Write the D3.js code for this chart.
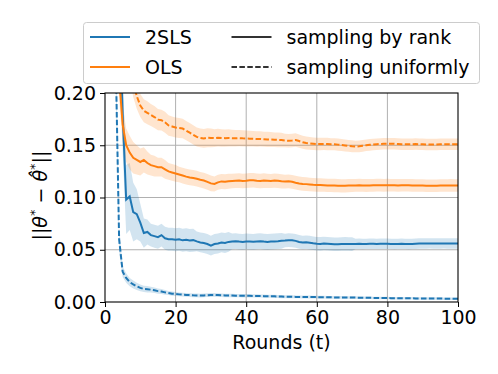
<!DOCTYPE html>
<html>
<head>
<meta charset="utf-8">
<script src="https://cdn.jsdelivr.net/npm/d3@7"></script>
<style>
  body { margin: 0; background: #fff; }
  svg { font-family: "DejaVu Sans", sans-serif; }
</style>
</head>
<body>
<svg id="chart" width="498" height="374"></svg>
<script>
// rounds 1..100
const rounds = d3.range(1, 101);

// 2SLS, sampling by rank (mean and band half-width)
const tslsRank = [
  0.90, 0.60, 0.40, 0.30, 0.18, 0.098, 0.101, 0.086, 0.084, 0.076,
  0.066, 0.067, 0.064, 0.063, 0.062, 0.064, 0.061, 0.060, 0.060, 0.0596,
  0.0600, 0.0590, 0.0595, 0.0588, 0.0592, 0.0580, 0.0570, 0.0565, 0.0555, 0.0540,
  0.0555, 0.0560, 0.0570, 0.0565, 0.0575, 0.0580, 0.0582, 0.0578, 0.0575, 0.0580,
  0.0578, 0.0576, 0.0580, 0.0582, 0.0578, 0.0575, 0.0578, 0.0580, 0.0582, 0.0585,
  0.0588, 0.0592, 0.0590, 0.0585, 0.0575, 0.0570, 0.0572, 0.0568, 0.0562, 0.0558,
  0.0556, 0.0560, 0.0558, 0.0555, 0.0552, 0.0553, 0.0555, 0.0556, 0.0555, 0.0554,
  0.0556, 0.0557, 0.0555, 0.0556, 0.0558, 0.0557, 0.0556, 0.0557, 0.0558, 0.0557,
  0.0556, 0.0555, 0.0556, 0.0557, 0.0556, 0.0555, 0.0556, 0.0558, 0.0559, 0.0560,
  0.0560, 0.0561, 0.0560, 0.0559, 0.0560, 0.0561, 0.0560, 0.0559, 0.0560, 0.0560
];
const tslsRankErr = [
  0.060, 0.050, 0.045, 0.040, 0.035, 0.033, 0.032, 0.028, 0.024, 0.018,
  0.014, 0.012, 0.011, 0.011, 0.011, 0.011, 0.011, 0.011, 0.011, 0.011,
  0.011, 0.011, 0.011, 0.011, 0.011, 0.0095, 0.0095, 0.0095, 0.0095, 0.0095,
  0.0095, 0.0095, 0.0095, 0.0095, 0.0095, 0.0075, 0.0075, 0.0075, 0.0075, 0.0075,
  0.0075, 0.0075, 0.0075, 0.0075, 0.0075, 0.0075, 0.0075, 0.0075, 0.0075, 0.0075,
  0.0065, 0.0065, 0.0065, 0.0065, 0.0065, 0.0065, 0.0065, 0.0065, 0.0065, 0.0065,
  0.0065, 0.0065, 0.0065, 0.0065, 0.0065, 0.0065, 0.0065, 0.0065, 0.0065, 0.0065,
  0.0050, 0.0050, 0.0050, 0.0050, 0.0050, 0.0050, 0.0050, 0.0050, 0.0050, 0.0050,
  0.0050, 0.0050, 0.0050, 0.0050, 0.0050, 0.0050, 0.0050, 0.0050, 0.0050, 0.0050,
  0.0050, 0.0050, 0.0050, 0.0050, 0.0050, 0.0050, 0.0050, 0.0050, 0.0050, 0.0050
];

// 2SLS, sampling uniformly
const tslsUnif = [
  0.90, 0.50, 0.24, 0.060, 0.029, 0.023, 0.019, 0.0168, 0.0150, 0.0135,
  0.0125, 0.0122, 0.0118, 0.0112, 0.0104, 0.0100, 0.0092, 0.0086, 0.0080, 0.0077,
  0.0073, 0.0070, 0.0068, 0.0066, 0.0064, 0.0063, 0.0062, 0.0063, 0.0065, 0.0067,
  0.0068, 0.0066, 0.0064, 0.0063, 0.0062, 0.0062, 0.0061, 0.0061, 0.0060, 0.0060,
  0.0059, 0.0058, 0.0058, 0.0057, 0.0056, 0.0055, 0.0055, 0.0054, 0.0053, 0.0052,
  0.0051, 0.0050, 0.0050, 0.0049, 0.0049, 0.0048, 0.0048, 0.0048, 0.0047, 0.0047,
  0.0046, 0.0046, 0.0045, 0.0045, 0.0044, 0.0044, 0.0044, 0.0043, 0.0043, 0.0042,
  0.0042, 0.0041, 0.0041, 0.0040, 0.0040, 0.0039, 0.0039, 0.0038, 0.0038, 0.0038,
  0.0037, 0.0037, 0.0036, 0.0036, 0.0035, 0.0035, 0.0035, 0.0034, 0.0034, 0.0034,
  0.0034, 0.0033, 0.0033, 0.0033, 0.0033, 0.0032, 0.0032, 0.0032, 0.0032, 0.0032
];
const tslsUnifErr = [
  0.050, 0.040, 0.030, 0.012, 0.005, 0.0045, 0.0040, 0.0038, 0.0035, 0.0032,
  0.0030, 0.0030, 0.0028, 0.0026, 0.0025, 0.0024, 0.0022, 0.0020, 0.0020, 0.0019,
  0.0018, 0.0018, 0.0018, 0.0018, 0.0018, 0.0018, 0.0018, 0.0018, 0.0018, 0.0018,
  0.0017, 0.0017, 0.0017, 0.0017, 0.0017, 0.0016, 0.0016, 0.0016, 0.0016, 0.0016,
  0.0015, 0.0015, 0.0015, 0.0015, 0.0015, 0.0015, 0.0015, 0.0015, 0.0015, 0.0015,
  0.0014, 0.0014, 0.0014, 0.0014, 0.0014, 0.0014, 0.0014, 0.0014, 0.0014, 0.0014,
  0.0013, 0.0013, 0.0013, 0.0013, 0.0013, 0.0013, 0.0013, 0.0013, 0.0013, 0.0013,
  0.0012, 0.0012, 0.0012, 0.0012, 0.0012, 0.0012, 0.0012, 0.0012, 0.0012, 0.0012,
  0.0012, 0.0012, 0.0012, 0.0012, 0.0012, 0.0012, 0.0012, 0.0012, 0.0012, 0.0012,
  0.0012, 0.0012, 0.0012, 0.0012, 0.0012, 0.0012, 0.0012, 0.0012, 0.0012, 0.0012
];

// OLS, sampling by rank
const olsRank = [
  1.00, 0.60, 0.33, 0.215, 0.170, 0.150, 0.143, 0.138, 0.136, 0.134,
  0.136, 0.133, 0.131, 0.130, 0.129, 0.129, 0.127, 0.125, 0.124, 0.123,
  0.1220, 0.1210, 0.1200, 0.1192, 0.1187, 0.1180, 0.1170, 0.1162, 0.1150, 0.1135,
  0.1130, 0.1145, 0.1154, 0.1150, 0.1155, 0.1158, 0.1160, 0.1162, 0.1158, 0.1160,
  0.1164, 0.1165, 0.1160, 0.1158, 0.1162, 0.1160, 0.1158, 0.1162, 0.1160, 0.1155,
  0.1152, 0.1155, 0.1150, 0.1142, 0.1135, 0.1130, 0.1128, 0.1125, 0.1122, 0.1120,
  0.1120, 0.1118, 0.1116, 0.1116, 0.1115, 0.1113, 0.1112, 0.1112, 0.1114, 0.1115,
  0.1116, 0.1117, 0.1116, 0.1115, 0.1116, 0.1117, 0.1118, 0.1118, 0.1117, 0.1118,
  0.1118, 0.1117, 0.1116, 0.1117, 0.1118, 0.1117, 0.1116, 0.1115, 0.1114, 0.1114,
  0.1113, 0.1112, 0.1112, 0.1113, 0.1114, 0.1115, 0.1115, 0.1116, 0.1115, 0.1115
];
const olsRankErr = [
  0.050, 0.040, 0.030, 0.020, 0.018, 0.016, 0.016, 0.015, 0.014, 0.013,
  0.012, 0.011, 0.010, 0.010, 0.009, 0.009, 0.009, 0.008, 0.008, 0.008,
  0.0075, 0.0075, 0.0075, 0.0075, 0.0075, 0.0075, 0.0075, 0.0075, 0.0075, 0.0075,
  0.0072, 0.0072, 0.0072, 0.0072, 0.0072, 0.0070, 0.0070, 0.0070, 0.0070, 0.0070,
  0.0070, 0.0070, 0.0070, 0.0070, 0.0070, 0.0068, 0.0068, 0.0068, 0.0068, 0.0068,
  0.0066, 0.0066, 0.0066, 0.0066, 0.0066, 0.0065, 0.0065, 0.0065, 0.0065, 0.0065,
  0.0064, 0.0064, 0.0064, 0.0064, 0.0064, 0.0063, 0.0063, 0.0063, 0.0063, 0.0063,
  0.0062, 0.0062, 0.0062, 0.0062, 0.0062, 0.0061, 0.0061, 0.0061, 0.0061, 0.0061,
  0.0060, 0.0060, 0.0060, 0.0060, 0.0060, 0.0060, 0.0060, 0.0060, 0.0060, 0.0060,
  0.0060, 0.0060, 0.0060, 0.0060, 0.0060, 0.0060, 0.0060, 0.0060, 0.0060, 0.0060
];

// OLS, sampling uniformly
const olsUnif = [
  1.20, 0.80, 0.50, 0.35, 0.29, 0.25, 0.230, 0.210, 0.197, 0.188,
  0.183, 0.181, 0.179, 0.177, 0.1745, 0.174, 0.172, 0.169, 0.168, 0.167,
  0.1665, 0.1660, 0.1640, 0.1620, 0.1600, 0.1580, 0.1570, 0.1565, 0.1572, 0.1570,
  0.1568, 0.1572, 0.1570, 0.1568, 0.1570, 0.1568, 0.1566, 0.1568, 0.1566, 0.1565,
  0.1563, 0.1562, 0.1560, 0.1560, 0.1558, 0.1556, 0.1555, 0.1553, 0.1552, 0.1550,
  0.1545, 0.1543, 0.1545, 0.1550, 0.1540, 0.1528, 0.1522, 0.1518, 0.1515, 0.1512,
  0.1512, 0.1513, 0.1512, 0.1510, 0.1510, 0.1506, 0.1502, 0.1498, 0.1494, 0.1490,
  0.1488, 0.1490, 0.1495, 0.1500, 0.1504, 0.1507, 0.1510, 0.1512, 0.1514, 0.1515,
  0.1515, 0.1514, 0.1512, 0.1510, 0.1510, 0.1509, 0.1510, 0.1511, 0.1510, 0.1509,
  0.1508, 0.1508, 0.1507, 0.1508, 0.1509, 0.1510, 0.1510, 0.1509, 0.1510, 0.1510
];
const olsUnifErr = [
  0.060, 0.050, 0.040, 0.030, 0.025, 0.020, 0.016, 0.014, 0.012, 0.011,
  0.011, 0.011, 0.0105, 0.0105, 0.0102, 0.0100, 0.0100, 0.0098, 0.0096, 0.0095,
  0.0095, 0.0094, 0.0093, 0.0092, 0.0092, 0.0091, 0.0090, 0.0090, 0.0090, 0.0090,
  0.0085, 0.0085, 0.0084, 0.0083, 0.0082, 0.0080, 0.0079, 0.0078, 0.0077, 0.0076,
  0.0075, 0.0075, 0.0074, 0.0073, 0.0072, 0.0072, 0.0071, 0.0070, 0.0070, 0.0070,
  0.0065, 0.0065, 0.0064, 0.0064, 0.0063, 0.0062, 0.0062, 0.0061, 0.0060, 0.0060,
  0.0060, 0.0059, 0.0059, 0.0058, 0.0058, 0.0058, 0.0057, 0.0057, 0.0057, 0.0057,
  0.0056, 0.0056, 0.0056, 0.0056, 0.0056, 0.0055, 0.0055, 0.0055, 0.0055, 0.0055,
  0.0055, 0.0055, 0.0055, 0.0055, 0.0055, 0.0055, 0.0055, 0.0055, 0.0055, 0.0055,
  0.0055, 0.0055, 0.0055, 0.0055, 0.0055, 0.0055, 0.0055, 0.0055, 0.0055, 0.0055
];

const xTicks = [0, 20, 40, 60, 80, 100];
const yTicks = [0.00, 0.05, 0.10, 0.15, 0.20];

const blue = '#1f77b4';
const orange = '#ff7f0e';

const series = [
  { mean: tslsRank, err: tslsRankErr, color: blue, dashed: false },
  { mean: tslsUnif, err: tslsUnifErr, color: blue, dashed: true },
  { mean: olsRank, err: olsRankErr, color: orange, dashed: false },
  { mean: olsUnif, err: olsUnifErr, color: orange, dashed: true }
];

const svg = d3.select('#chart');
const margin = { left: 105, right: 40, top: 93, bottom: 72 };
const width = 498 - margin.left - margin.right;
const height = 374 - margin.top - margin.bottom;

const x = d3.scaleLinear().domain([0, 100]).range([0, width]);
const y = d3.scaleLinear().domain([0, 0.2]).range([height, 0]);

const g = svg.append('g').attr('transform', `translate(${margin.left},${margin.top})`);

g.append('clipPath').attr('id', 'plot-clip')
  .append('rect').attr('width', width).attr('height', height);

// grid
g.append('g').selectAll('line.vgrid')
  .data(xTicks.slice(1, -1))
  .join('line')
  .attr('x1', d => x(d)).attr('x2', d => x(d))
  .attr('y1', 0).attr('y2', height)
  .attr('stroke', '#b0b0b0').attr('stroke-width', 1);
g.append('g').selectAll('line.hgrid')
  .data(yTicks.slice(1, -1))
  .join('line')
  .attr('x1', 0).attr('x2', width)
  .attr('y1', d => y(d)).attr('y2', d => y(d))
  .attr('stroke', '#b0b0b0').attr('stroke-width', 1);

const plot = g.append('g').attr('clip-path', 'url(#plot-clip)');

const area = d3.area()
  .x(d => x(d.t))
  .y0(d => y(d.m - d.e))
  .y1(d => y(d.m + d.e));
const line = d3.line()
  .x(d => x(d.t))
  .y(d => y(d.m));

// bands first, then lines
series.forEach(s => {
  const pts = rounds.map((t, i) => ({ t, m: s.mean[i], e: s.err[i] }));
  s.pts = pts;
  plot.append('path')
    .attr('d', area(pts))
    .attr('fill', s.color)
    .attr('fill-opacity', 0.2);
});
series.forEach(s => {
  plot.append('path')
    .attr('d', line(s.pts))
    .attr('fill', 'none')
    .attr('stroke', s.color)
    .attr('stroke-width', 2)
    .attr('stroke-dasharray', s.dashed ? '5.5,2.4' : null);
});

// axes
const xAxis = g.append('g')
  .attr('transform', `translate(0,${height})`)
  .call(d3.axisBottom(x).tickValues(xTicks).tickSize(5).tickPadding(4));
const yAxis = g.append('g')
  .call(d3.axisLeft(y).tickValues(yTicks).tickFormat(d3.format('.2f')).tickSize(5).tickPadding(4));
[xAxis, yAxis].forEach(ax => {
  ax.select('.domain').remove();
  ax.selectAll('text').attr('font-size', 19).attr('font-family', 'DejaVu Sans').attr('fill', '#000');
  ax.selectAll('line').attr('stroke', '#000').attr('stroke-width', 1);
});

// spines
g.append('rect')
  .attr('width', width).attr('height', height)
  .attr('fill', 'none').attr('stroke', '#000').attr('stroke-width', 1.1);

// axis labels
svg.append('text')
  .attr('x', margin.left + width / 2).attr('y', 349)
  .attr('text-anchor', 'middle').attr('font-size', 19)
  .text('Rounds (t)');

const ylab = svg.append('text')
  .attr('transform', `translate(47,${margin.top + height / 2 - 2}) rotate(-90)`)
  .attr('text-anchor', 'middle').attr('font-size', 19);
ylab.append('tspan').text('||');
ylab.append('tspan').attr('font-style', 'italic').text('θ');
ylab.append('tspan').attr('font-size', 13).attr('dy', -8).text('*');
ylab.append('tspan').attr('dy', 8).text(' − ');
ylab.append('tspan').attr('font-style', 'italic').text('θ\u0302');
ylab.append('tspan').attr('font-size', 13).attr('dy', -8).text('*');
ylab.append('tspan').attr('dy', 8).text('||');

// legend
const legend = svg.append('g');
legend.append('rect')
  .attr('x', 83.5).attr('y', 22.5).attr('width', 396).attr('height', 61)
  .attr('rx', 3).attr('fill', '#fff').attr('fill-opacity', 0.8)
  .attr('stroke', '#cccccc').attr('stroke-width', 1);

const legendItems = [
  { label: '2SLS', color: blue, dashed: false, col: 0, row: 0 },
  { label: 'OLS', color: orange, dashed: false, col: 0, row: 1 },
  { label: 'sampling by rank', color: '#333', dashed: false, col: 1, row: 0 },
  { label: 'sampling uniformly', color: '#333', dashed: true, col: 1, row: 1 }
];
const colX = [90, 231.5];
const rowY = [37, 67];
const items = legend.selectAll('g.item').data(legendItems).join('g')
  .attr('transform', d => `translate(${colX[d.col]},${rowY[d.row]})`);
items.append('line')
  .attr('x1', 0).attr('x2', 40).attr('y1', 0).attr('y2', 0)
  .attr('stroke', d => d.color).attr('stroke-width', 2)
  .attr('stroke-dasharray', d => d.dashed ? '5.5,2.4' : null);
items.append('text')
  .attr('x', 55).attr('y', 0).attr('dy', '0.35em')
  .attr('font-size', 19).text(d => d.label);
</script>
</body>
</html>
